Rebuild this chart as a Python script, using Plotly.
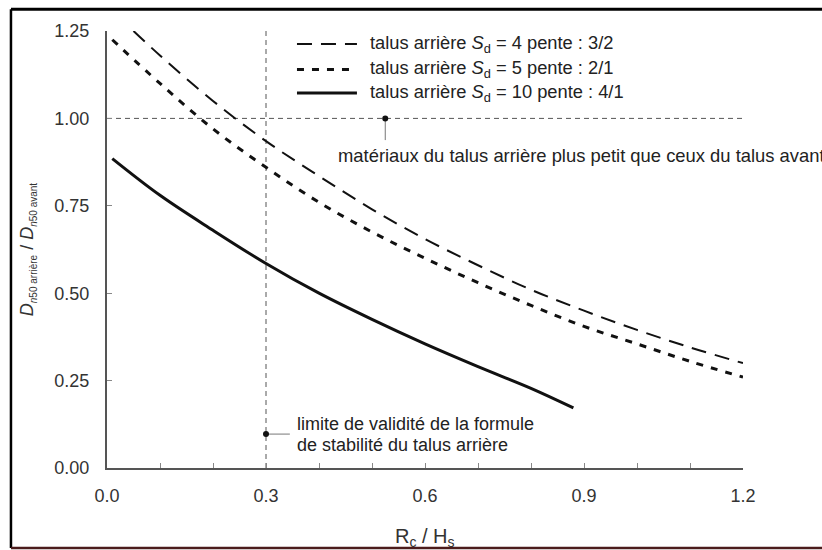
import plotly.graph_objects as go

# ---- data ----
x_sd4 = [0.05, 0.1, 0.2, 0.3, 0.4, 0.5, 0.6, 0.7, 0.8, 0.9, 1.0, 1.1, 1.2]
y_sd4 = [1.25, 1.18, 1.05, 0.935, 0.835, 0.74, 0.655, 0.58, 0.51, 0.45, 0.395, 0.345, 0.30]

x_sd5 = [0.01, 0.1, 0.2, 0.3, 0.4, 0.5, 0.6, 0.7, 0.8, 0.9, 1.0, 1.1, 1.2]
y_sd5 = [1.225, 1.10, 0.97, 0.86, 0.76, 0.675, 0.60, 0.53, 0.465, 0.405, 0.355, 0.305, 0.26]

x_sd10 = [0.01, 0.1, 0.2, 0.3, 0.4, 0.5, 0.6, 0.7, 0.8, 0.88]
y_sd10 = [0.885, 0.78, 0.68, 0.585, 0.50, 0.425, 0.355, 0.29, 0.228, 0.172]

series_names = ["talus arrière <i>S</i><sub>d</sub> = 4 pente : 3/2",
                "talus arrière <i>S</i><sub>d</sub> = 5 pente : 2/1",
                "talus arrière <i>S</i><sub>d</sub> = 10 pente : 4/1"]

limit_x = 0.3          # limite de validité
ref_y = 1.0            # ratio = 1
x_range = [0.0, 1.2]
y_range = [0.0, 1.25]
note1_point = [0.525, 1.0, 0.938]    # x, dot y, leader end y
note2_point = [0.3, 0.097, 0.345]    # x, y, leader end x

x_tickvals = [0.0, 0.1, 0.2, 0.3, 0.4, 0.5, 0.6, 0.7, 0.8, 0.9, 1.0, 1.1, 1.2]
x_ticktext = ["0.0", "", "", "0.3", "", "", "0.6", "", "", "0.9", "", "", "1.2"]
y_tickvals = [0.0, 0.25, 0.5, 0.75, 1.0, 1.25]
y_ticktext = ["0.00", "0.25", "0.50", "0.75", "1.00", "1.25"]

note1_text = "matériaux du talus arrière plus petit que ceux du talus avant"
note2_lines = ["limite de validité de la formule", "de stabilité du talus arrière"]

FONT = "Liberation Sans, Arial, sans-serif"
INK = "#111111"
GREY = "#555555"

fig = go.Figure()

# reference dashed lines
fig.add_trace(go.Scatter(x=x_range, y=[ref_y, ref_y], mode="lines",
                         line=dict(color=GREY, width=1, dash="5px,4px"),
                         showlegend=False, hoverinfo="skip"))
fig.add_trace(go.Scatter(x=[limit_x, limit_x], y=y_range, mode="lines",
                         line=dict(color=GREY, width=1, dash="5px,4px"),
                         showlegend=False, hoverinfo="skip"))

# curves
fig.add_trace(go.Scatter(x=x_sd4, y=y_sd4, mode="lines", name=series_names[0],
                         line=dict(color=INK, width=2, dash="15px,9px", shape="spline"),
                         showlegend=False))
fig.add_trace(go.Scatter(x=x_sd5, y=y_sd5, mode="lines", name=series_names[1],
                         line=dict(color=INK, width=3, dash="7px,8px", shape="spline"),
                         showlegend=False))
fig.add_trace(go.Scatter(x=x_sd10, y=y_sd10, mode="lines", name=series_names[2],
                         line=dict(color=INK, width=3, shape="spline"),
                         showlegend=False))

# annotation leaders
fig.add_trace(go.Scatter(x=[note1_point[0], note1_point[0]], y=[note1_point[1], note1_point[2]],
                         mode="lines", line=dict(color="#777777", width=1),
                         showlegend=False, hoverinfo="skip"))
fig.add_trace(go.Scatter(x=[note2_point[0], note2_point[2]], y=[note2_point[1], note2_point[1]],
                         mode="lines", line=dict(color="#777777", width=1),
                         showlegend=False, hoverinfo="skip"))
fig.add_trace(go.Scatter(x=[note1_point[0], note2_point[0]], y=[note1_point[1], note2_point[1]],
                         mode="markers", marker=dict(color=INK, size=6),
                         showlegend=False, hoverinfo="skip"))

# manual legend
legend_rows = [0.970, 0.912, 0.858]
legend_dash = ["15px,9px", "7px,8px", "solid"]
legend_width = [2, 3, 3]
for i in range(3):
    fig.add_shape(type="line", xref="paper", yref="paper",
                  x0=0.2987, x1=0.393, y0=legend_rows[i], y1=legend_rows[i],
                  line=dict(color=INK, width=legend_width[i], dash=legend_dash[i]))
    fig.add_annotation(xref="paper", yref="paper", x=0.411, y=legend_rows[i],
                       xanchor="left", yanchor="middle", showarrow=False,
                       text=series_names[i], font=dict(family=FONT, size=18.3, color="#222222"))

# notes
fig.add_annotation(x=0.433, y=0.895, xanchor="left", yanchor="middle", showarrow=False,
                   text=note1_text, font=dict(family=FONT, size=18.4, color="#222222"))
fig.add_annotation(x=0.355, y=0.126, xanchor="left", yanchor="middle", showarrow=False,
                   text=note2_lines[0], font=dict(family=FONT, size=18, color="#222222"))
fig.add_annotation(x=0.355, y=0.066, xanchor="left", yanchor="middle", showarrow=False,
                   text=note2_lines[1], font=dict(family=FONT, size=18, color="#222222"))

# axis titles
sub_style = "font-size:10px"
fig.add_annotation(xref="paper", yref="paper", x=-0.124, y=0.501, textangle=-90,
                   xanchor="center", yanchor="middle", showarrow=False,
                   text=("<i>D</i><sub><span style='" + sub_style + "'><i>n</i>50 arrière</span></sub>"
                         " / <i>D</i><sub><span style='" + sub_style + "'><i>n</i>50 avant</span></sub>"),
                   font=dict(family=FONT, size=18, color="#333333"))
fig.add_annotation(xref="paper", yref="paper", x=0.5, y=-0.160,
                   xanchor="center", yanchor="middle", showarrow=False,
                   text="R<sub>c</sub> / H<sub>s</sub>",
                   font=dict(family=FONT, size=20, color="#333333"))

# outer frame
fig.add_shape(type="line", xref="paper", yref="paper",
              x0=-0.151, x1=1.2, y0=1.050, y1=1.050,
              line=dict(color="#000000", width=3))
fig.add_shape(type="line", xref="paper", yref="paper",
              x0=-0.151, x1=-0.151, y0=-0.183, y1=1.050,
              line=dict(color="#000000", width=2.5))
fig.add_shape(type="line", xref="paper", yref="paper",
              x0=-0.151, x1=1.2, y0=-0.183, y1=-0.183,
              line=dict(color="#4b1c1c", width=2.5))

fig.update_layout(
    width=822, height=550,
    margin=dict(l=107, r=79, t=31, b=82),
    paper_bgcolor="white", plot_bgcolor="white",
    font=dict(family=FONT, size=18, color="#333333"),
    showlegend=False,
)
fig.update_xaxes(range=x_range, tickvals=x_tickvals, ticktext=x_ticktext,
                 ticks="inside", ticklen=5, tickcolor="#888888", tickwidth=1,
                 showline=True, linecolor=GREY, linewidth=2, showgrid=False, zeroline=False,
                 ticklabelstandoff=10, tickfont=dict(size=18, color="#333333"))
fig.update_yaxes(range=y_range, tickvals=y_tickvals, ticktext=y_ticktext,
                 ticks="inside", ticklen=5, tickcolor="#888888", tickwidth=1,
                 showline=True, linecolor=GREY, linewidth=2, showgrid=False, zeroline=False,
                 ticklabelstandoff=12, tickfont=dict(size=18, color="#333333"))

fig.write_html("out.html", config={"displayModeBar": False},
               post_script="document.body.style.margin='0';document.body.style.overflow='hidden';")
